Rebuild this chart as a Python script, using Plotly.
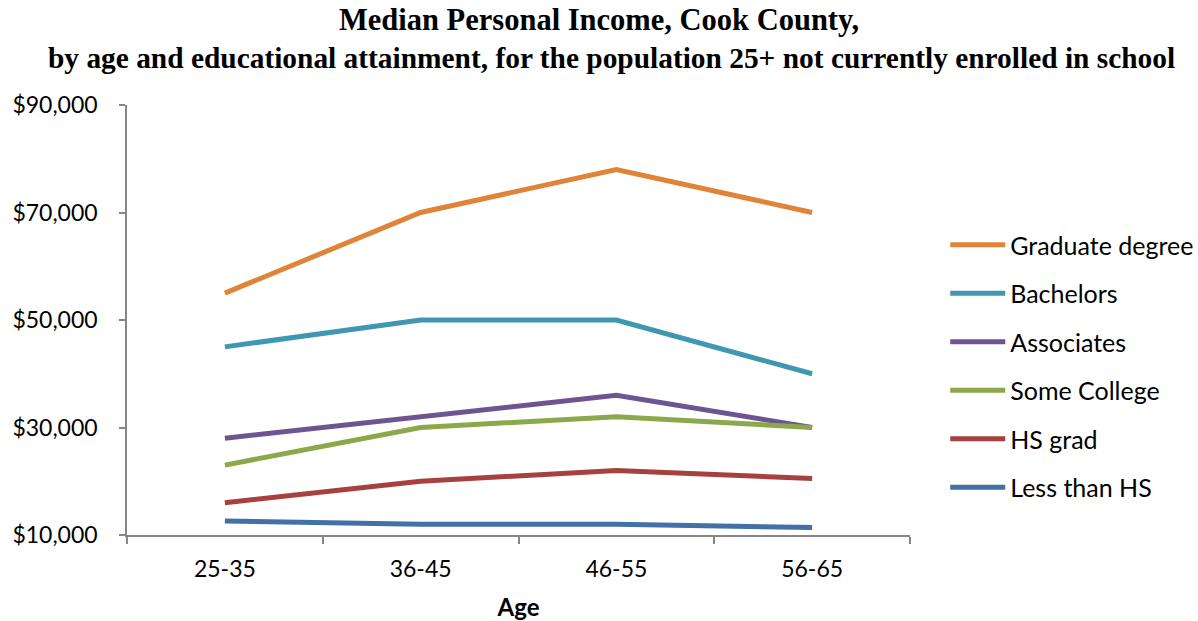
import plotly.graph_objects as go

# Age bands on the x axis
age_groups = ["25-35", "36-45", "46-55", "56-65"]

# Median personal income by educational attainment (USD)
graduate_degree = [55000, 70000, 78000, 70000]
bachelors = [45000, 50000, 50000, 40000]
associates = [28000, 32000, 36000, 30000]
some_college = [23000, 30000, 32000, 30000]
hs_grad = [16000, 20000, 22000, 20500]
less_than_hs = [12600, 12000, 12000, 11400]

series_names = ["Graduate degree", "Bachelors", "Associates",
                "Some College", "HS grad", "Less than HS"]
series_values = [graduate_degree, bachelors, associates,
                 some_college, hs_grad, less_than_hs]
series_colors = ["#DF8438", "#4097B1", "#6E5592", "#8BA84B", "#A6413F", "#4270A7"]

y_ticks = [10000, 30000, 50000, 70000, 90000]

title_lines = [
    "Median Personal Income, Cook County,",
    "by age and educational attainment, for the population 25+ not currently enrolled in school",
]

fig = go.Figure()
for i, (name, vals, col) in enumerate(zip(series_names, series_values, series_colors)):
    fig.add_trace(go.Scatter(
        x=age_groups, y=vals, name=name, mode="lines",
        line=dict(color=col, width=5),
        legendgroup=f"g{i}",
    ))

axis_grey = "#868686"
body_font = "Lato"

# Two-line heading placed above the plot area
for text, xpos, ypos, size in zip(title_lines, [0.603, 0.619], [1.198, 1.109], [30.5, 29.4]):
    fig.add_annotation(
        text=text, xref="paper", yref="paper", x=xpos, y=ypos,
        xanchor="center", yanchor="middle", showarrow=False,
        font=dict(family="Liberation Serif", size=size, color="black", weight="bold"),
    )

fig.update_layout(
    width=1198, height=621,
    margin=dict(l=127, r=288, t=105, b=86, autoexpand=False),
    paper_bgcolor="white", plot_bgcolor="white",
    showlegend=True,
    legend=dict(
        x=1.045, xanchor="left", xref="paper",
        y=0.393, yanchor="middle",
        font=dict(family=body_font, size=25, color="black"),
        tracegroupgap=13,
        itemwidth=55,
        traceorder="grouped",
        bgcolor="rgba(0,0,0,0)",
    ),
    xaxis=dict(
        type="category",
        tickson="boundaries",
        ticks="outside", ticklen=7, tickcolor=axis_grey, tickwidth=1.5,
        showline=True, linecolor=axis_grey, linewidth=1.5,
        showgrid=False, zeroline=False,
        automargin=False,
        ticklabelstandoff=13,
        tickfont=dict(family=body_font, size=23, color="black"),
        title=dict(text="<b>Age</b>", font=dict(family=body_font, size=24, color="black"),
                   standoff=23),
        range=[-0.5, 3.5],
    ),
    yaxis=dict(
        range=[10000, 90000],
        tickvals=y_ticks,
        tickformat="$,.0f",
        ticks="outside", ticklen=6, tickcolor=axis_grey, tickwidth=1.5,
        showline=True, linecolor=axis_grey, linewidth=1.5,
        showgrid=False, zeroline=False,
        automargin=False,
        ticklabelstandoff=17,
        tickfont=dict(family=body_font, size=23, color="black"),
    ),
)

fig.write_html("out.html")
